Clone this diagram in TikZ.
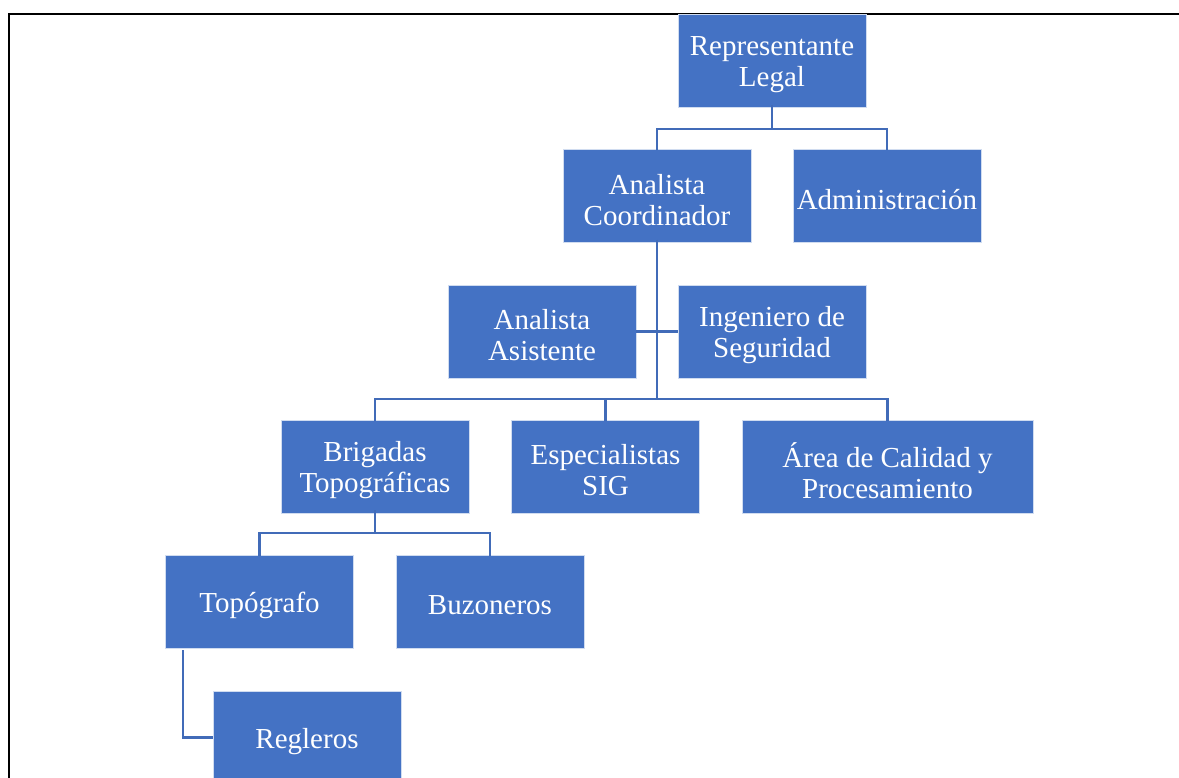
\documentclass[tikz,border=0pt]{standalone}
\usepackage{fontspec}
\setmainfont{Liberation Serif}
\definecolor{boxblue}{HTML}{4472C4}
\definecolor{lineblue}{HTML}{416BB8}
\begin{document}
\begin{tikzpicture}[x=1pt,y=-1pt,
  orgbox/.style={rectangle, fill=boxblue, draw=white!75!boxblue, line width=0.5pt,
    minimum height=93pt, minimum width=188pt, inner sep=0pt},
  lbl/.style={text=white, font=\fontsize{29}{31}\selectfont, align=center, yshift=-4pt, inner sep=0pt},
  conn/.style={draw=lineblue, line width=2.6pt},
  frameline/.style={draw=black, line width=2pt}]
\useasboundingbox (0,0) rectangle (1179,778);
\clip (0,0) rectangle (1179,778);
\fill[white] (0,0) rectangle (1179,778);
\draw[frameline] (9,790) -- (9,14) -- (1190,14);

\node[orgbox, label={[lbl]center:{Representante\\Legal}}] (rep) at (772,61) {};
\node[orgbox, label={[lbl]center:{Analista\\Coordinador}}] (coord) at (657,196) {};
\node[orgbox, label={[lbl]center:{Administración}}] (admin) at (887,196) {};
\node[orgbox, label={[lbl]center:{Analista\\Asistente}}] (asist) at (542,331.5) {};
\node[orgbox, label={[lbl]center:{Ingeniero de\\Seguridad}}] (ing) at (772,331.5) {};
\node[orgbox, label={[lbl]center:{Brigadas\\Topográficas}}] (brig) at (375,466.5) {};
\node[orgbox, label={[lbl]center:{Especialistas\\SIG}}] (sig) at (605.5,466.5) {};
\node[orgbox, minimum width=291pt, label={[lbl]center:{Área de Calidad y\\Procesamiento}}] (area) at (887.5,466.5) {};
\node[orgbox, label={[lbl]center:{Topógrafo}}] (topo) at (259.5,601.5) {};
\node[orgbox, label={[lbl]center:{Buzoneros}}] (buzo) at (490,601.5) {};
\node[orgbox, label={[lbl]center:{Regleros}}] (regl) at (307,737.5) {};

\coordinate (b1) at (772,129);
\coordinate (b2) at (657,399);
\coordinate (b3) at (375,533);
\coordinate (tl) at (183,650);

\draw[conn] ([yshift=3pt]rep.south) -- (b1);
\draw[conn] ([yshift=-1pt]coord.north) |- (b1) -| ([yshift=-1pt]admin.north);
\draw[conn] ([yshift=3pt]coord.south) -- (b2);
\draw[conn] (asist.east) -- (ing.west);
\draw[conn] ([yshift=-1pt]brig.north) |- (b2) -| ([yshift=-1pt]area.north);
\draw[conn] ([yshift=-1pt]sig.north) -- (sig.north |- b2);
\draw[conn] ([yshift=3pt]brig.south) -- (b3);
\draw[conn] ([yshift=-1pt]topo.north) |- (b3) -| ([yshift=-1pt]buzo.north);
\draw[conn] (tl) |- (regl.west);
\end{tikzpicture}
\end{document}
